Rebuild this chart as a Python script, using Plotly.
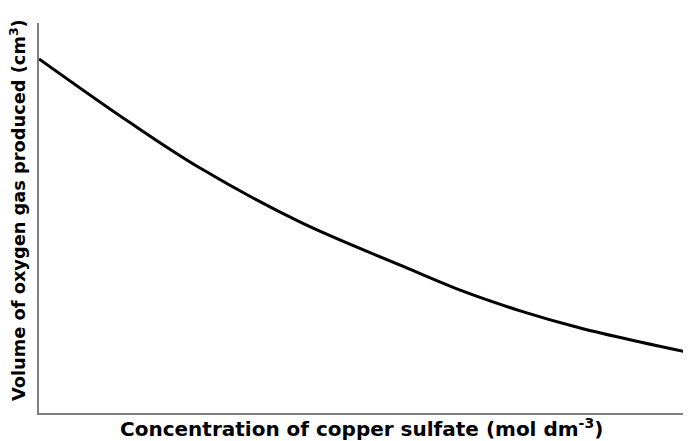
import plotly.graph_objects as go

# Curve values (arbitrary units)
concentration = [0.0, 1.40, 2.47, 4.00, 5.54, 6.46, 7.38, 8.30, 9.22, 10.0]
oxygen_volume = [9.08, 7.44, 6.28, 4.90, 3.79, 3.15, 2.62, 2.18, 1.82, 1.54]

x_title = "Concentration of copper sulfate (mol dm<sup>-3</sup>)"
y_title = "Volume of oxygen gas produced (cm<sup>3</sup>)"

fig = go.Figure()
fig.add_trace(go.Scatter(
    x=concentration, y=oxygen_volume, mode="lines",
    line=dict(color="black", width=3, shape="spline", smoothing=1.0),
    showlegend=False, hoverinfo="skip",
))

x_font = dict(family="DejaVu Sans, sans-serif", size=20, color="black", weight="bold")
y_font = dict(family="DejaVu Sans, sans-serif", size=17.8, color="black", weight="bold")

# page body has an 8px margin, so the figure is drawn from (8, 8)
fig.update_layout(
    width=683, height=433,
    margin=dict(l=31, r=0, t=15, b=28),
    paper_bgcolor="white", plot_bgcolor="white",
    xaxis=dict(range=[0, 10], showticklabels=False, ticks="", showgrid=False, zeroline=False,
               showline=True, linecolor="#7f7f7f", linewidth=2, automargin=False),
    yaxis=dict(range=[0, 10], showticklabels=False, ticks="", showgrid=False, zeroline=False,
               showline=True, linecolor="#7f7f7f", linewidth=2, automargin=False),
    annotations=[
        dict(text=x_title, xref="paper", x=(361 - 39) / 652, xanchor="center",
             yref="paper", y=-(428 - 413) / 390, yanchor="middle",
             showarrow=False, font=x_font),
        dict(text=y_title, xref="paper", x=-(39 - 18) / 652, xanchor="center",
             yref="paper", y=(413 - 210) / 390, yanchor="middle",
             showarrow=False, textangle=-90, font=y_font),
    ],
)

fig.write_html("out.html")
